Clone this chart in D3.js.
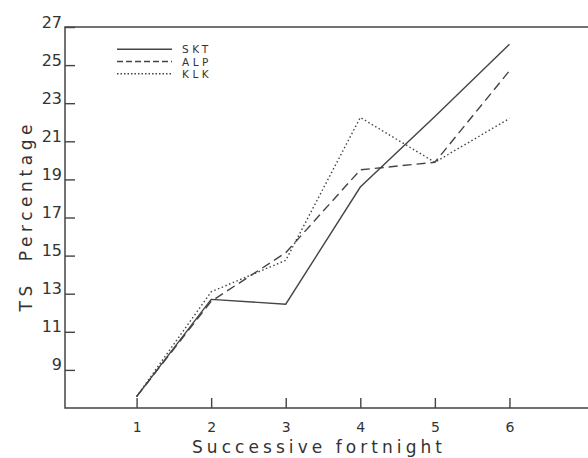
<!DOCTYPE html>
<html>
<head>
<meta charset="utf-8">
<script src="https://cdn.jsdelivr.net/npm/d3@7"></script>
<style>
  body { margin: 0; background: #fff; }
  text { font-family: "DejaVu Sans", sans-serif; fill: #333; }
</style>
</head>
<body>
<script>
const width = 588;
const height = 458;

const fortnights = [1, 2, 3, 4, 5, 6];
const yTicks = [9, 11, 13, 15, 17, 19, 21, 23, 25, 27];
const skt = [7.6, 12.7, 12.45, 18.6, 22.3, 26.1];
const alp = [7.6, 12.6, 15.15, 19.5, 19.9, 24.7];
const klk = [7.6, 13.1, 14.75, 22.25, 19.9, 22.2];

const series = [
  { name: "SKT", values: skt, dash: null, legendDash: null },
  { name: "ALP", values: alp, dash: "9,5", legendDash: "6,3" },
  { name: "KLK", values: klk, dash: "1.5,2.5", legendDash: "1.5,2" }
];

const x = d3.scaleLinear().domain([0.04, 7.04]).range([65, 587]);
const y = d3.scaleLinear().domain([7, 27]).range([408, 27]);

const svg = d3.select("body")
  .append("svg")
  .attr("width", width)
  .attr("height", height);

// frame: top, left and bottom lines (open on the right)
svg.append("path")
  .attr("d", `M${width},${y(27)}H${x.range()[0]}V${y(7)}H${width}`)
  .attr("stroke", "#444")
  .attr("stroke-width", 1.5)
  .attr("fill", "none");

svg.append("g")
  .attr("transform", `translate(${x.range()[0]},0)`)
  .call(d3.axisLeft(y).tickValues(yTicks).tickSizeInner(-10).tickSizeOuter(0).tickPadding(3))
  .call(g => g.select(".domain").remove())
  .call(g => g.selectAll(".tick line").attr("stroke", "#444").attr("stroke-width", 1.4))
  .call(g => g.selectAll(".tick text")
    .attr("dy", "0")
    .attr("font-size", 16)
    .attr("fill", "#333"));

svg.append("g")
  .attr("transform", `translate(0,${y.range()[0]})`)
  .call(d3.axisBottom(x).tickValues(fortnights).tickFormat(d3.format("d"))
    .tickSizeInner(-10).tickSizeOuter(0).tickPadding(14))
  .call(g => g.select(".domain").remove())
  .call(g => g.selectAll(".tick line").attr("stroke", "#444").attr("stroke-width", 1.4))
  .call(g => g.selectAll(".tick text")
    .attr("font-size", 14)
    .attr("fill", "#333"));

svg.append("text")
  .attr("x", 317)
  .attr("y", 453)
  .attr("text-anchor", "middle")
  .attr("font-size", 17)
  .attr("textLength", 250)
  .attr("lengthAdjust", "spacing")
  .text("Successive fortnight");

svg.append("text")
  .attr("transform", "translate(32,218) rotate(-90)")
  .attr("text-anchor", "middle")
  .attr("font-size", 17)
  .attr("textLength", 187)
  .attr("lengthAdjust", "spacing")
  .style("white-space", "pre")
  .text("TS  Percentage");

const line = d3.line()
  .x((d, i) => x(fortnights[i]))
  .y(d => y(d));

svg.append("g")
  .selectAll("path")
  .data(series)
  .join("path")
  .attr("d", d => line(d.values))
  .attr("fill", "none")
  .attr("stroke", "#444")
  .attr("stroke-width", 1.4)
  .attr("stroke-dasharray", d => d.dash);

const legend = svg.append("g")
  .selectAll("g")
  .data(series)
  .join("g")
  .attr("transform", (d, i) => `translate(117,${49.2 + i * 12.3})`);

legend.append("line")
  .attr("x2", 55)
  .attr("stroke", "#444")
  .attr("stroke-width", 1.4)
  .attr("stroke-dasharray", d => d.legendDash);

legend.append("text")
  .attr("x", 65)
  .attr("y", 4)
  .attr("font-size", 10.5)
  .attr("letter-spacing", 3.5)
  .text(d => d.name);
</script>
</body>
</html>
